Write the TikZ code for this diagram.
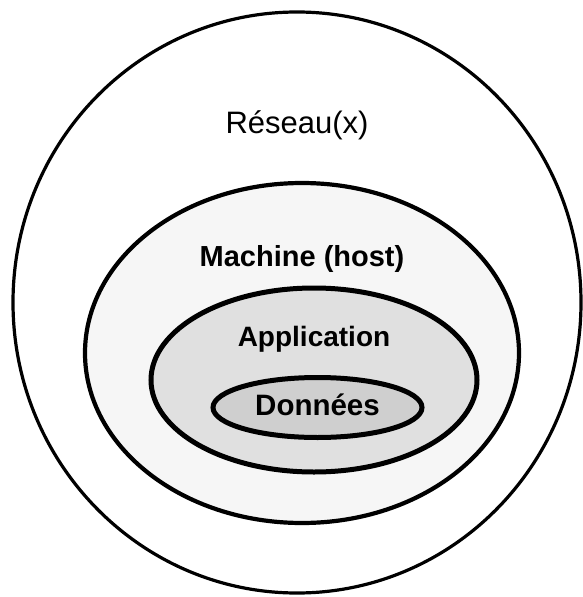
\documentclass[tikz,border=0pt]{standalone}
\usepackage{fontspec}
\setmainfont{Liberation Sans}
\usetikzlibrary{shapes.geometric}

\tikzset{
  layer/.style={ellipse, draw=black, inner sep=0pt},
  label text/.style={anchor=base, inner sep=0pt, text=black},
}

\begin{document}
\begin{tikzpicture}[x=1pt, y=-1pt]
  % page frame
  \useasboundingbox[fill=white] (0,0) rectangle (583,597);

  % nested layers, outermost first
  \node[layer, line width=3.2pt, fill=white,
        minimum width=568pt, minimum height=581pt] (reseau) at (297,302.5) {};
  \node[layer, line width=4.2pt, fill=gray!7,
        minimum width=434pt, minimum height=340pt] (machine) at (302,353) {};
  \node[layer, line width=5pt, fill=gray!24,
        minimum width=326pt, minimum height=184pt] (application) at (314,380) {};
  \node[layer, line width=5pt, fill=gray!38,
        minimum width=209pt, minimum height=60pt] (donnees) at (317.5,407.5) {};

  % layer names
  \node[label text, font=\fontsize{31}{31}\selectfont] (treseau) at (297,133) {Réseau(x)};
  \node[label text, font=\fontsize{29}{29}\selectfont\bfseries] (tmachine) at (302,266) {Machine (host)};
  \node[label text, font=\fontsize{28}{28}\selectfont\bfseries] (tapplication) at (314,346) {Application};
  \node[label text, font=\fontsize{29.5}{29.5}\selectfont\bfseries] (tdonnees) at (317.5,415) {Données};
\end{tikzpicture}
\end{document}
